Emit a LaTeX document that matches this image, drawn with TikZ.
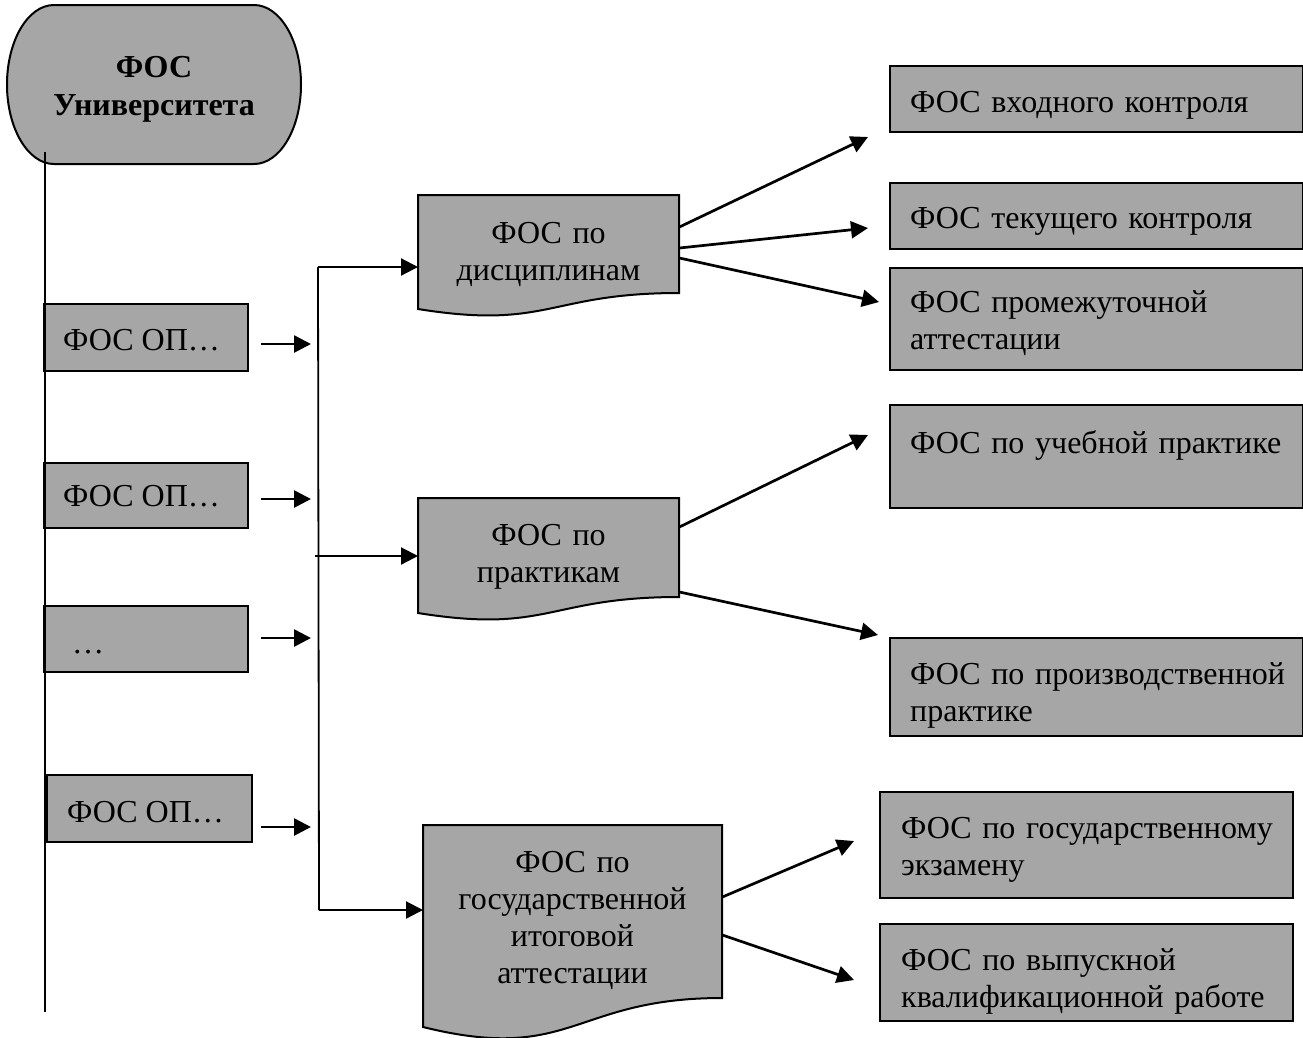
\documentclass[tikz,border=0pt]{standalone}
\usepackage{fontspec}
\setmainfont{Liberation Serif}
\usetikzlibrary{arrows.meta,calc}
\definecolor{boxgray}{RGB}{166,166,166}
\begin{document}
\begin{tikzpicture}[x=1pt,y=-1pt,
  box/.style={draw=black, line width=2pt, fill=boxgray, rectangle, inner sep=0pt, anchor=north west},
  docshape/.style={draw=black, line width=2pt, fill=boxgray},
  anchorbox/.style={rectangle, inner sep=0pt, anchor=north west},
  txt/.style={font=\fontsize{32}{37}\selectfont, inner sep=0pt, text=black},
  ctxt/.style={txt, text width=#1, align=center, anchor=base},
  ltxt/.style={txt, text width=#1, align=left, anchor=base west},
  arr/.style={line width=2.7pt, -{Triangle[length=17pt,width=17pt]}},
  busline/.style={line width=1.8pt},
  spineline/.style={line width=1.6pt}]
\useasboundingbox (0,0) rectangle (1303,1037);

% ---- terminator: ФОС Университета
\path[docshape] (54,5) -- (254,5) .. controls (280,5) and (301,40.6) .. (301,84.5)
  .. controls (301,128.4) and (280,164) .. (254,164) -- (54,164)
  .. controls (28,164) and (7,128.4) .. (7,84.5)
  .. controls (7,40.6) and (28,5) .. (54,5) -- cycle;
\node[ctxt=280, font=\bfseries\fontsize{32}{38}\selectfont] (univ) at (154,77) {ФОС\\Университета};

% ---- left boxes
\node[box, minimum width=204, minimum height=67] (op1) at (43,303) {};
\node[box, minimum width=204, minimum height=65] (op2) at (43,462) {};
\node[box, minimum width=204, minimum height=66] (op3) at (43,605) {};
\node[box, minimum width=205, minimum height=67] (op4) at (46,774) {};
\node[txt, anchor=base west] (op1t) at (63,350) {ФОС ОП…};
\node[txt, anchor=base west] (op2t) at (63,506) {ФОС ОП…};
\node[txt, anchor=base west] (op3t) at (72,653) {…};
\node[txt, anchor=base west] (op4t) at (67,822) {ФОС ОП…};

% ---- spine
\coordinate (spineTop) at (45,152);
\coordinate (spineBot) at (45,1012);
\draw[spineline] (spineTop) -- (spineBot);

% ---- small arrows
\draw[arr] ($(op1.east)+(12,6.5)$) -- ($(op1.east)+(62,6.5)$);
\draw[arr] ($(op2.east)+(12,3.5)$) -- ($(op2.east)+(62,3.5)$);
\draw[arr] ($(op3.east)+(12,-1)$) -- ($(op3.east)+(62,-1)$);
\draw[arr] ($(op4.east)+(8,18.5)$) -- ($(op4.east)+(58,18.5)$);

% ---- document shapes
\node[anchorbox, minimum width=261, minimum height=122] (d1) at (418,195) {};
\node[anchorbox, minimum width=261, minimum height=123] (d2) at (418,498) {};
\node[anchorbox, minimum width=299, minimum height=216] (d3) at (423,825) {};
\path[docshape] (418,195) -- (679,195) -- (679,293)
  .. controls (548.5,293) and (548.5,330) .. (418,309) -- cycle;
\path[docshape] (418,498) -- (679,498) -- (679,597)
  .. controls (548.5,597) and (548.5,634) .. (418,613) -- cycle;
\path[docshape] (423,825) -- (722,825) -- (722,998)
  .. controls (572.5,998) and (572.5,1064) .. (423,1027) -- cycle;
\node[ctxt=250] (d1t) at (548.5,243) {ФОС по\\дисциплинам};
\node[ctxt=250] (d2t) at (548.5,545) {ФОС по\\практикам};
\node[ctxt=290] (d3t) at (572.5,872) {ФОС по\\государственной\\итоговой\\аттестации};

% ---- bus
\coordinate (busTop) at (318,267);
\coordinate (busMid) at (315,556);
\coordinate (busBot) at (319,910);
\draw[busline] (busTop) -- (busBot);
\draw[arr, line width=2.2pt] (busTop) -- (busTop -| d1.west);
\draw[arr, line width=2.2pt] (busMid) -- (busMid -| d2.west);
\draw[arr, line width=2.2pt] (busBot) -- (busBot -| d3.west);

% ---- right boxes
\node[box, minimum width=413, minimum height=66] (r1) at (889,65) {};
\node[box, minimum width=413, minimum height=66] (r2) at (889,182) {};
\node[box, minimum width=413, minimum height=102] (r3) at (889,267) {};
\node[box, minimum width=413, minimum height=103] (r4) at (889,404) {};
\node[box, minimum width=413, minimum height=98] (r5) at (889,637) {};
\node[box, minimum width=413, minimum height=106] (r6) at (879,791) {};
\node[box, minimum width=413, minimum height=97] (r7) at (879,923) {};
\node[ltxt=390] (r1t) at (910,112) {ФОС входного контроля};
\node[ltxt=390] (r2t) at (910,228) {ФОС текущего контроля};
\node[ltxt=390] (r3t) at (910,312) {ФОС промежуточной\\аттестации};
\node[ltxt=390] (r4t) at (910,453) {ФОС по учебной практике};
\node[ltxt=390] (r5t) at (910,684) {ФОС по производственной\\практике};
\node[ltxt=390] (r6t) at (901,838) {ФОС по государственному\\экзамену};
\node[ltxt=390] (r7t) at (901,970) {ФОС по выпускной\\квалификационной работе};

% ---- fan-out connectors
\coordinate (t1) at ($(r1.south west)+(-21,4)$);
\coordinate (t2) at ($(r2.north west)+(-21,46)$);
\coordinate (t3) at ($(r3.north west)+(-10,35)$);
\coordinate (t4) at ($(r4.north west)+(-21,31)$);
\coordinate (t5) at ($(r5.north west)+(-11,-2)$);
\coordinate (t6) at ($(r6.north west)+(-25,50)$);
\coordinate (t7) at ($(r7.north west)+(-25,57)$);
\draw[arr] ($(d1.north east)+(0,32)$) -- (t1);
\draw[arr] ($(d1.north east)+(0,53)$) -- (t2);
\draw[arr] ($(d1.north east)+(0,63)$) -- (t3);
\draw[arr] ($(d2.north east)+(0,29)$) -- (t4);
\draw[arr] ($(d2.north east)+(0,94)$) -- (t5);
\draw[arr] ($(d3.north east)+(0,72)$) -- (t6);
\draw[arr] ($(d3.north east)+(0,110)$) -- (t7);
\end{tikzpicture}
\end{document}
